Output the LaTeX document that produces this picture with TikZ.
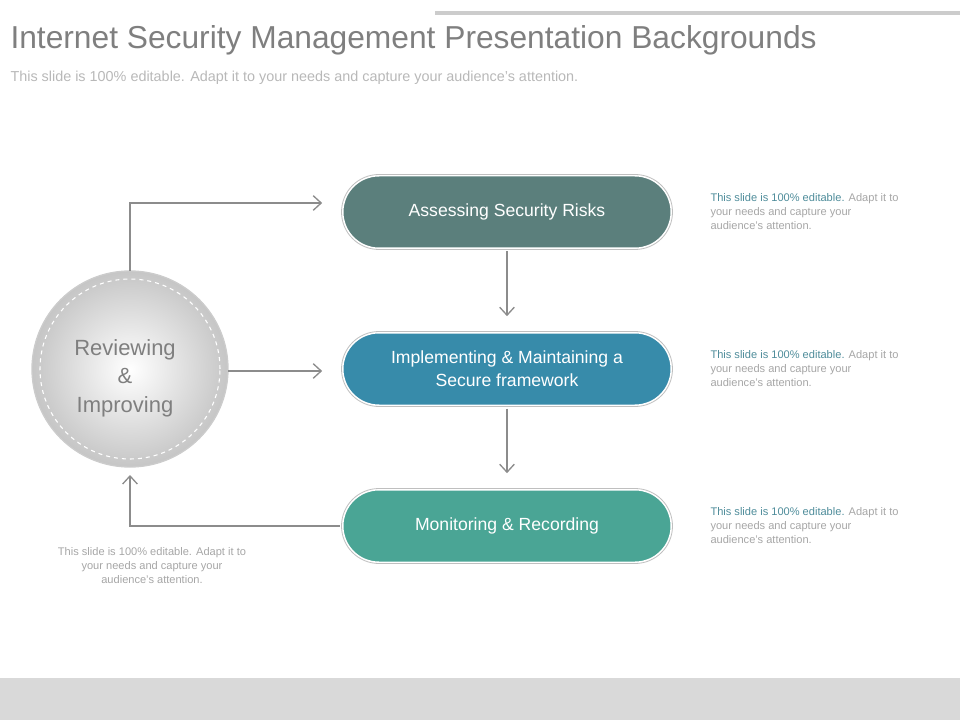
\documentclass[tikz,border=0pt]{standalone}
\usepackage{fontspec}
\setmainfont{Liberation Sans}
\usetikzlibrary{arrows.meta, positioning}
\definecolor{titlegray}{HTML}{7F7F7F}
\definecolor{notegray}{HTML}{A6A6A6}
\definecolor{linegray}{HTML}{8C8C8C}
\definecolor{assesscol}{HTML}{5B7F7C}
\definecolor{implcol}{HTML}{378BAA}
\definecolor{monicol}{HTML}{4AA595}
\definecolor{notecol}{HTML}{4E8C9A}
\tikzset{every picture/.style={line width=0.75pt}}

\begin{document}
\begin{tikzpicture}[x=0.75pt,y=-0.75pt,
    pill/.style={rounded corners=37.5*0.75pt, minimum width=331*0.75pt, minimum height=75*0.75pt,
      draw=white, line width=3pt, text=white, font=\fontsize{13.2}{17}\selectfont, align=center,
      postaction={draw=gray!50, line width=0.6pt, rounded corners=39*0.75pt}},
    link/.style={draw=linegray, line width=1pt, -{Straight Barb[length=6pt,width=11pt]}},
    note/.style={text=notegray, font=\fontsize{8.3}{10.4}\selectfont, align=left, anchor=north west, inner sep=0pt},
    ]
    \useasboundingbox (0,0) rectangle (960,720);
    \fill[gray!30] (0,678) rectangle (960,720);
    \draw[gray!40, line width=3pt] (435,13) -- (960,13);
    \node[anchor=west, text=titlegray, font=\fontsize{23.8}{28}\selectfont, inner sep=0pt] (title) at (10,40)
        {Internet Security Management Presentation Backgrounds};
    \node[anchor=west, text=notegray!80, font=\fontsize{10.8}{13}\selectfont, inner sep=0pt] (sub) at (10,78)
        {This slide is 100\% editable.  Adapt it to your needs and capture your audience's attention.};

    % steps
    \node[pill, fill=assesscol] (assess) at (507,212) {Assessing Security Risks};
    \node[pill, fill=implcol] (impl) at (507,369) {Implementing \& Maintaining  a\\Secure framework};
    \node[pill, fill=monicol] (moni) at (507,526) {Monitoring \& Recording};

    % circle
    \shade[inner color=white, outer color=gray!45, draw=gray!40, line width=1pt] (130,369) circle (98*0.75pt);
    \draw[white, dashed, line width=0.8pt] (130,369) circle (90*0.75pt);
    \node[text=titlegray, font=\fontsize{16.5}{21.5}\selectfont, align=center] (review) at (125,378)
        {Reviewing\\\&\\Improving};
    \coordinate (ctop) at (130,271);
    \coordinate (cright) at (228,371);
    \coordinate (cbot) at (130,475);

    \draw[link] (ctop) |- ([xshift=-13pt]assess.west |- 0,203);
    \draw[link] (cright) -- ([xshift=-13pt]impl.west |- cright);
    \draw[link] (moni.west) -| (cbot);
    \draw[link] (assess.south) -- ([yshift=10pt]impl.north);
    \draw[link] (impl.south) -- ([yshift=10pt]moni.north);

    % notes
    \foreach \y/\n in {193/na, 350/nb, 507/nc}
      \node[note] (\n) at (710,\y) {\textcolor{notecol}{This slide is 100\% editable.} Adapt it to\\your needs and capture your\\audience's attention.};
    \node[note, anchor=north, align=center] (nd) at (152,547) {This slide is 100\% editable. Adapt it to\\your needs and capture your\\audience's attention.};
\end{tikzpicture}
\end{document}
